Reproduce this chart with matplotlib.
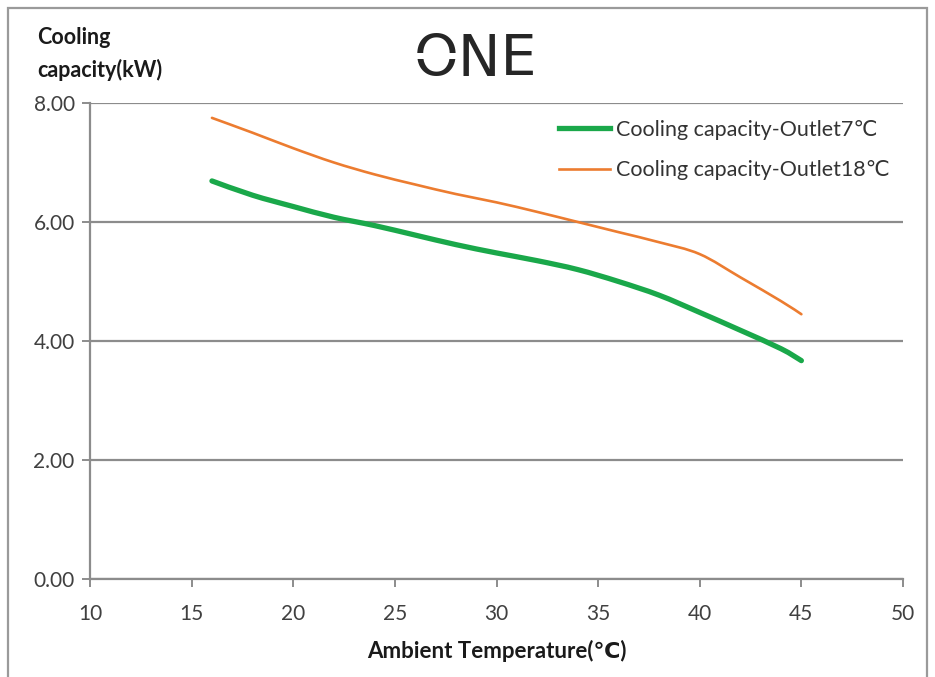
import matplotlib
matplotlib.use('Agg')
import matplotlib.pyplot as plt
from matplotlib.patches import Rectangle, PathPatch
from matplotlib.path import Path
from matplotlib.lines import Line2D

# values
temps = [16, 18, 20, 22, 24, 26, 28, 30, 32, 34, 36, 38, 40, 42, 44, 45]
cap_outlet7 = [6.69, 6.45, 6.26, 6.08, 5.94, 5.78, 5.62, 5.48, 5.35, 5.20, 5.00, 4.77, 4.48, 4.18, 3.87, 3.67]
cap_outlet18 = [7.75, 7.50, 7.24, 7.00, 6.80, 6.63, 6.47, 6.33, 6.17, 6.00, 5.83, 5.66, 5.46, 5.07, 4.67, 4.45]
x_ticks = [10, 15, 20, 25, 30, 35, 40, 45, 50]
y_ticks = [0, 2, 4, 6, 8]
label_7 = 'Cooling capacity-Outlet7℃'
label_18 = 'Cooling capacity-Outlet18℃'

plt.rcParams['font.family'] = ['Lato', 'DejaVu Sans']


def smooth_path(xs, ys):
    """Excel-like smoothed line: Catmull-Rom segments drawn as cubic Beziers."""
    pts = list(zip(xs, ys))
    verts = [pts[0]]
    codes = [Path.MOVETO]
    n = len(pts)
    for i in range(n - 1):
        p0 = pts[max(i - 1, 0)]
        p1 = pts[i]
        p2 = pts[i + 1]
        p3 = pts[min(i + 2, n - 1)]
        c1 = (p1[0] + (p2[0] - p0[0]) / 6, p1[1] + (p2[1] - p0[1]) / 6)
        c2 = (p2[0] - (p3[0] - p1[0]) / 6, p2[1] - (p3[1] - p1[1]) / 6)
        verts += [c1, c2, p2]
        codes += [Path.CURVE4] * 3
    return Path(verts, codes)


W, H = 935, 677
fig = plt.figure(figsize=(W / 100, H / 100), dpi=100, facecolor='white')
ax = fig.add_axes([90 / W, 1 - 579 / H, (903 - 90) / W, (579 - 103) / H])

grey = '#8c8c8c'
green = '#1aa84a'
orange = '#ec7c30'
ax.add_patch(PathPatch(smooth_path(temps, cap_outlet7), fill=False, edgecolor=green,
                       lw=3.8, capstyle='round', zorder=3))
ax.add_patch(PathPatch(smooth_path(temps, cap_outlet18), fill=False, edgecolor=orange,
                       lw=1.9, capstyle='round', zorder=3))

ax.set_xlim(10, 50)
ax.set_ylim(0, 8)
ax.set_xticks(x_ticks)
ax.set_yticks(y_ticks)
ax.set_yticklabels([f'{v:.2f}' for v in y_ticks])
ax.grid(axis='y', color=grey, lw=1.6)
ax.set_axisbelow(True)
for side in ['top', 'right']:
    ax.spines[side].set_visible(False)
for side in ['left', 'bottom']:
    ax.spines[side].set_color(grey)
    ax.spines[side].set_linewidth(1.6)
ax.tick_params(axis='both', direction='out', length=6, width=1.4, color=grey,
               labelsize=15, labelcolor='#404040')
ax.tick_params(axis='y', pad=5)
ax.tick_params(axis='x', pad=12)

handles = [Line2D([], [], color=green, lw=3.8), Line2D([], [], color=orange, lw=1.9)]
leg = fig.legend(handles, [label_7, label_18], loc='upper left',
                 bbox_to_anchor=(559 / W, 1 - 120 / H),
                 frameon=False, fontsize=15.5, handlelength=2.35,
                 handletextpad=0.3, labelspacing=0.95, borderpad=0,
                 borderaxespad=0)
for t in leg.get_texts():
    t.set_color('#333333')

fig.text(497 / W, 1 - 651 / H, 'Ambient Temperature(℃)', ha='center', va='center',
         fontsize=16, fontweight='bold', color='#1a1a1a')
fig.text(37 / W, 1 - 38 / H, 'Cooling', ha='left', va='center',
         fontsize=15.5, fontweight='bold', color='#1a1a1a')
fig.text(37 / W, 1 - 70 / H, 'capacity(kW)', ha='left', va='center',
         fontsize=15.5, fontweight='bold', color='#1a1a1a')

# logo: text with the two side gaps of the O cut out in white
logo_kw = dict(fontsize=41, family='DejaVu Sans', color='#262626', va='center', ha='left')
logo_x, logo_y = 414 / W, 1 - 61 / H
logo = fig.text(logo_x, logo_y, 'ONE', **logo_kw)
fig.canvas.draw()
renderer = fig.canvas.get_renderer()
probe = fig.text(logo_x, logo_y, 'O', **logo_kw)
ob = probe.get_window_extent(renderer)
probe.remove()
gap_h = 6
yc = H - 56
for gx in [ob.x0, ob.x1 - 14]:
    fig.patches.append(Rectangle((gx / W, (yc - gap_h / 2) / H), 14 / W, gap_h / H,
                                 transform=fig.transFigure, facecolor='white',
                                 edgecolor='none', zorder=5))

# outer frame of the picture
fig.patches.append(Rectangle((8 / W, -0.1), (927 - 8) / W, 1.1 - 8 / H,
                             transform=fig.transFigure, fill=False,
                             edgecolor='#9a9a9a', lw=1.6))

fig.savefig('out.png', dpi=100)
